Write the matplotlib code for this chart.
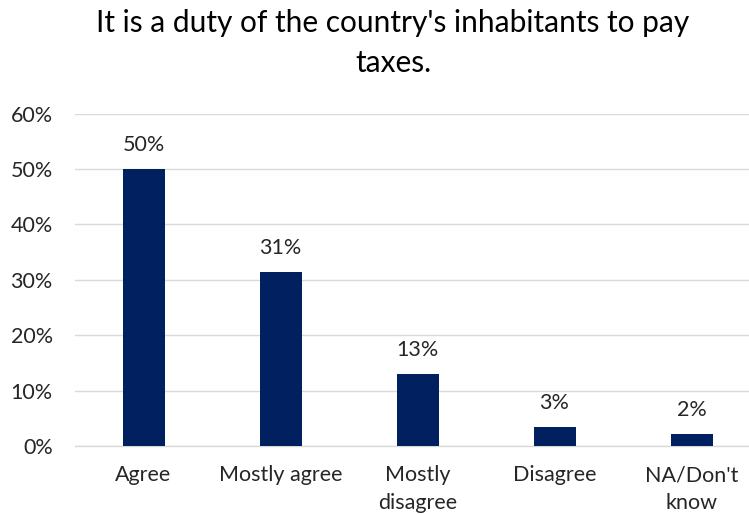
import matplotlib
matplotlib.use("Agg")
import matplotlib.pyplot as plt
from matplotlib.ticker import FuncFormatter

categories = ["Agree", "Mostly agree", "Mostly\ndisagree", "Disagree", "NA/Don't\nknow"]
values = [50.0, 31.4, 13.0, 3.4, 2.2]
y_ticks = [0, 10, 20, 30, 40, 50, 60]
title = "It is a duty of the country's inhabitants to pay\ntaxes."

plt.rcParams["font.family"] = ["Lato", "DejaVu Sans"]

W, H = 749, 515
fig = plt.figure(figsize=(W / 100, H / 100), dpi=100)
left_px, right_px, bottom_px, top_px = 75, 749, 446, 113.5
ax = fig.add_axes([left_px / W, 1 - bottom_px / H,
                   (right_px - left_px) / W, (bottom_px - top_px) / H])

slot = 137.0
x = list(range(len(categories)))
bars = ax.bar(x, values, width=42 / slot, color="#002060", zorder=3)

ax.set_xlim(-0.5, -0.5 + (right_px - left_px) / slot)
ax.set_ylim(0, 60)
ax.set_yticks(y_ticks)
ax.yaxis.set_major_formatter(FuncFormatter(lambda v, p: f"{v:.0f}%"))
ax.set_xticks(x)
ax.set_xticklabels(categories)

ax.grid(axis="y", color="#d9d9d9", linewidth=1, zorder=0)
for s in ["top", "right", "left"]:
    ax.spines[s].set_visible(False)
ax.spines["bottom"].set_color("#d9d9d9")
ax.spines["bottom"].set_linewidth(1)
ax.tick_params(axis="both", length=0, labelsize=15.5, colors="#262626")
ax.tick_params(axis="y", pad=16)
ax.tick_params(axis="x", pad=14)
for lbl in ax.get_xticklabels():
    lbl.set_linespacing(1.45)

for rect, v in zip(bars, values):
    ax.annotate(f"{v:.0f}%", (rect.get_x() + rect.get_width() / 2, v),
                xytext=(0, 10), textcoords="offset points",
                ha="center", va="bottom", fontsize=15.5, color="#262626")

fig.text(393 / W, 1 - 9 / H, title, ha="center", va="top",
         fontsize=21.5, color="#000000", linespacing=1.5)

fig.savefig("out.png", dpi=100)
